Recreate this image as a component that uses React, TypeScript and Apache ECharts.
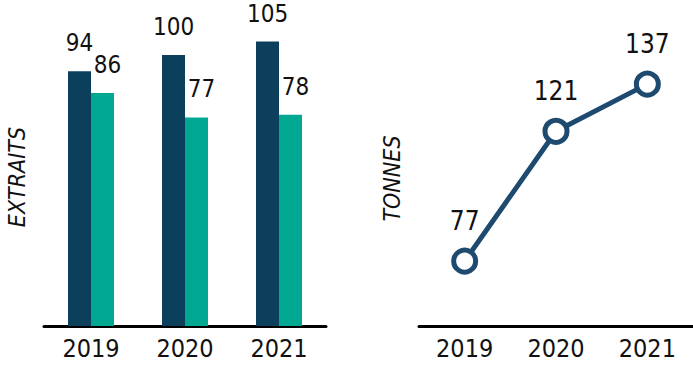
import React, { useEffect, useRef } from "react";
import * as echarts from "echarts";

const years = ["2019", "2020", "2021"];
const extraitsA = [94, 100, 105];
const extraitsB = [86, 77, 78];
const tonnes = [77, 121, 137];
const barAxisName = "EXTRAITS";
const lineAxisName = "TONNES";

const FONT = '"Liberation Sans Narrow", "DejaVu Sans Condensed", "Roboto", sans-serif';

export default function App() {
  const ref = useRef<HTMLDivElement>(null);
  useEffect(() => {
    document.body.style.margin = "0";
    const chart = echarts.init(ref.current!, null, { renderer: "svg" });
    chart.setOption({
      animation: false,
      backgroundColor: "#ffffff",
      textStyle: { fontFamily: FONT },
      grid: [
        { left: 44, top: 28, width: 282, height: 298 },
        { left: 419, top: 31, width: 281, height: 295 },
      ],
      xAxis: [
        {
          gridIndex: 0,
          type: "category",
          data: years,
          axisLine: { lineStyle: { color: "#000", width: 3 } },
          axisTick: { show: false },
          axisLabel: { fontSize: 25, color: "#111", margin: 10, fontFamily: FONT },
        },
        {
          gridIndex: 1,
          type: "category",
          data: years,
          axisLine: { lineStyle: { color: "#000", width: 3 } },
          axisTick: { show: false },
          axisLabel: { fontSize: 25, color: "#111", margin: 10, fontFamily: FONT },
        },
      ],
      yAxis: [
        {
          gridIndex: 0,
          type: "value",
          min: 0,
          max: 110,
          show: true,
          axisLine: { show: false },
          axisTick: { show: false },
          axisLabel: { show: false },
          splitLine: { show: false },
          name: barAxisName,
          nameLocation: "middle",
          nameGap: 16,
          nameRotate: 90,
          nameTextStyle: { fontSize: 23, fontStyle: "italic", color: "#111", fontFamily: FONT },
        },
        {
          gridIndex: 1,
          type: "value",
          min: 55,
          max: 155,
          show: true,
          axisLine: { show: false },
          axisTick: { show: false },
          axisLabel: { show: false },
          splitLine: { show: false },
          name: lineAxisName,
          nameLocation: "middle",
          nameGap: 16,
          nameRotate: 90,
          nameTextStyle: { fontSize: 23, fontStyle: "italic", color: "#111", fontFamily: FONT },
        },
      ],
      series: [
        {
          type: "bar",
          xAxisIndex: 0,
          yAxisIndex: 0,
          data: extraitsA,
          barWidth: 23,
          barGap: "0%",
          itemStyle: { color: "#0b3f5c" },
          label: {
            show: true,
            position: "top",
            distance: 16,
            fontSize: 24,
            color: "#111",
            fontFamily: FONT,
          },
        },
        {
          type: "bar",
          xAxisIndex: 0,
          yAxisIndex: 0,
          data: extraitsB,
          barWidth: 23,
          barGap: "0%",
          itemStyle: { color: "#00a891" },
          label: {
            show: true,
            position: "top",
            distance: 16,
            offset: [5, 0],
            fontSize: 24,
            color: "#111",
            fontFamily: FONT,
          },
        },
        {
          type: "line",
          xAxisIndex: 1,
          yAxisIndex: 1,
          data: tonnes,
          symbol: "circle",
          symbolSize: 22,
          lineStyle: { color: "#1e4a6f", width: 5 },
          itemStyle: { color: "#ffffff", borderColor: "#1e4a6f", borderWidth: 5 },
          label: {
            show: true,
            position: "top",
            distance: 14,
            fontSize: 26,
            color: "#111",
            fontFamily: FONT,
          },
        },
      ],
    });
    return () => chart.dispose();
  }, []);
  return <div ref={ref} style={{ width: 693, height: 365, position: "absolute", left: 0, top: 0 }} />;
}
